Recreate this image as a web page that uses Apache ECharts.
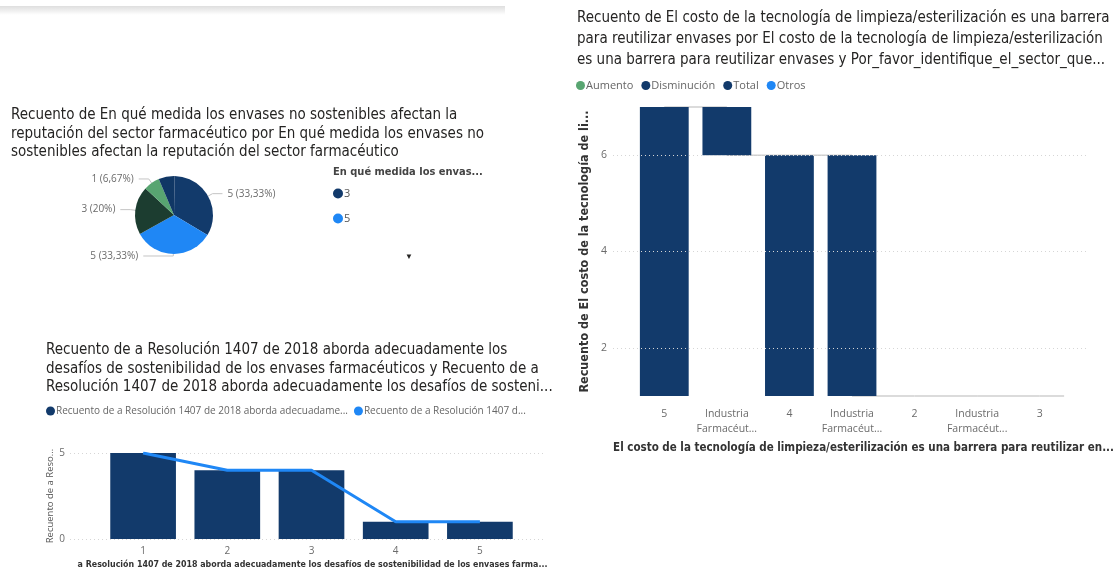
<!DOCTYPE html>
<html>
<head>
<meta charset="utf-8">
<script src="https://cdn.jsdelivr.net/npm/echarts@6/dist/echarts.min.js"></script>
<style>
  html, body { margin: 0; padding: 0; background: #ffffff; }
  #c { width: 1116px; height: 570px; }
</style>
</head>
<body>
<div id="c"></div>
<script>
// Pie: how much unsustainable packaging affects the sector's reputation
const pieCategories = ['3', '5', '4', '2', '1'];
const pieCounts = [5, 5, 3, 1, 1];

// Combo: Resolución 1407 de 2018
const resCategories = ['1', '2', '3', '4', '5'];
const resBarCounts = [5, 4, 4, 1, 1];
const resLineCounts = [5, 4, 4, 1, 1];
const resTicks = [0, 5];

// Waterfall: cleaning/sterilisation cost as a barrier to reuse
const wfCategories = ['5', 'Industria Farmacéutica', '4', 'Industria Farmacéutica', '2', 'Industria Farmacéutica', '3'];
const wfStart = [1, 6, 1, 1, 1, 1, 1];
const wfEnd = [7, 7, 6, 6, 1, 1, 1];
const wfKind = ['Total', 'Disminución', 'Total', 'Disminución', 'Total', 'Disminución', 'Total'];
const wfLinks = [7, 6, 6, 1, 1, 1, 1];
const wfTicks = [2, 4, 6];

const FONT_T = '"DejaVu Sans Condensed", "Liberation Sans Narrow", "DejaVu Sans", sans-serif';
const FONT_L = '"Open Sans", "Noto Sans", sans-serif';
const NAVY = '#123a6b', BLUE = '#1f87f5', DKGREEN = '#1c3d30', GREEN = '#58a571', NAVY2 = '#103765';
const TITLE_C = '#252423', LABEL_C = '#6b6b6b', GRID_C = '#d6d6d6';

const RES_NAME_BAR = 'Recuento de a Resolución 1407 de 2018 aborda adecuadamente los desafíos de sostenibilidad de los envases farmacéuticos';
const RES_NAME_LINE = 'Recuento de a Resolución 1407 de 2018 aborda adecuadamente los desafíos de sostenibilidad (línea)';

const WF_GAP = 0.22;

const chart = echarts.init(document.getElementById('c'), null, { renderer: 'canvas' });

const wfSpan = (kind) => wfKind.map((k, i) => (k === kind ? wfEnd[i] - wfStart[i] : '-'));

const titleStyle = (lh) => ({ fontFamily: FONT_T, fontSize: 15, fontWeight: 'normal', color: TITLE_C, lineHeight: lh });

// per-slice leader line lengths for the pie labels
const pieLeader = [[5, 10], [2, 30], [5, 10], [5, 10], [5, 10]];

const option = {
  backgroundColor: '#ffffff',
  animation: false,
  title: [
    {
      text: 'Recuento de El costo de la tecnología de limpieza/esterilización es una barrera\npara reutilizar envases por El costo de la tecnología de limpieza/esterilización\nes una barrera para reutilizar envases y Por_favor_identifique_el_sector_que...',
      left: 577, top: 8, padding: 0,
      textStyle: titleStyle(21)
    },
    {
      text: 'Recuento de En qué medida los envases no sostenibles afectan la\nreputación del sector farmacéutico por En qué medida los envases no\nsostenibles afectan la reputación del sector farmacéutico',
      left: 11, top: 106, padding: 0,
      textStyle: titleStyle(18.5)
    },
    {
      text: 'Recuento de a Resolución 1407 de 2018 aborda adecuadamente los\ndesafíos de sostenibilidad de los envases farmacéuticos y Recuento de a\nResolución 1407 de 2018 aborda adecuadamente los desafíos de sosteni...',
      left: 46, top: 341, padding: 0,
      textStyle: titleStyle(18.5)
    },
    {
      text: 'En qué medida los envas...',
      left: 333, top: 167, padding: 0,
      textStyle: { fontFamily: FONT_T, fontSize: 11, fontWeight: 'bold', color: '#444444' }
    },
    {
      text: '▼',
      left: 405, top: 253, padding: 0,
      textStyle: { fontFamily: FONT_L, fontSize: 8, fontWeight: 'normal', color: TITLE_C }
    }
  ],
  legend: [
    {
      data: ['3', '5'],
      orient: 'vertical', left: 333, top: 188, padding: 0,
      icon: 'circle', itemWidth: 10, itemHeight: 10, itemGap: 14,
      textStyle: { fontFamily: FONT_L, fontSize: 11, color: '#555555', padding: [0, 0, 0, -4] }
    },
    {
      data: [
        { name: RES_NAME_BAR, textStyle: { width: 298 } },
        { name: RES_NAME_LINE, textStyle: { width: 166 } }
      ],
      left: 46, top: 406, padding: 0,
      icon: 'circle', itemWidth: 9, itemHeight: 9, itemGap: 6,
      textStyle: { fontFamily: FONT_L, fontSize: 10, color: '#666666', overflow: 'truncate', ellipsis: '...', padding: [0, 0, 0, -4] }
    },
    {
      data: ['Aumento', 'Disminución', 'Total', 'Otros'],
      left: 576, top: 80, padding: 0,
      icon: 'circle', itemWidth: 9, itemHeight: 9, itemGap: 8,
      textStyle: { fontFamily: FONT_L, fontSize: 11, color: '#666666', padding: [0, 0, 0, -4] }
    }
  ],
  grid: [
    // 0: waterfall value scale with gridlines
    { left: 613, right: 28, top: 107, bottom: 174, outerBoundsMode: 'none', containLabel: false },
    // 1: waterfall bars
    { left: 633, width: 438, top: 107, bottom: 174, outerBoundsMode: 'none', containLabel: false },
    // 2: combo value scale with gridlines
    { left: 70, width: 475, top: 453, bottom: 31, outerBoundsMode: 'none', containLabel: false },
    // 3: combo bars and line
    { left: 101, width: 421, top: 453, bottom: 31, outerBoundsMode: 'none', containLabel: false }
  ],
  xAxis: [
    { gridIndex: 0, type: 'value', min: 0, max: 1, show: false },
    {
      gridIndex: 1, type: 'category', data: wfCategories,
      axisLine: { show: false }, axisTick: { show: false },
      axisLabel: {
        fontFamily: FONT_L, fontSize: 10.5, color: LABEL_C, margin: 11, lineHeight: 15, interval: 0,
        formatter: (v) => v.replace(' ', '\n').replace('Farmacéutica', 'Farmacéut...')
      },
      name: 'El costo de la tecnología de limpieza/esterilización es una barrera para reutilizar en...',
      nameLocation: 'middle', nameGap: 42,
      nameTextStyle: { fontFamily: FONT_T, fontSize: 11.5, fontWeight: 'bold', color: '#333333', padding: [0, 0, 0, 23] }
    },
    { gridIndex: 2, type: 'value', min: 0, max: 1, show: false },
    {
      gridIndex: 3, type: 'category', data: resCategories,
      axisLine: { show: false }, axisTick: { show: false },
      axisLabel: { fontFamily: FONT_L, fontSize: 10, color: LABEL_C, margin: 7 },
      name: 'a Resolución 1407 de 2018 aborda adecuadamente los desafíos de sostenibilidad de los envases farma...',
      nameLocation: 'middle', nameGap: 21,
      nameTextStyle: { fontFamily: FONT_T, fontSize: 8.8, fontWeight: 'bold', color: '#333333', padding: [0, 0, 0, 2] }
    }
  ],
  yAxis: [
    {
      gridIndex: 0, type: 'value', min: 1, max: 7, interval: 1,
      axisLine: { show: false }, axisTick: { show: false }, splitLine: { show: false },
      axisLabel: {
        fontFamily: FONT_L, fontSize: 10.5, color: LABEL_C, margin: 6,
        formatter: (v) => (wfTicks.includes(v) ? String(v) : '')
      },
      name: 'Recuento de El costo de la tecnología de li...',
      nameLocation: 'middle', nameGap: 22,
      nameTextStyle: { fontFamily: FONT_T, fontSize: 12.5, fontWeight: 'bold', color: '#333333' }
    },
    { gridIndex: 1, type: 'value', min: 1, max: 7, show: false },
    {
      gridIndex: 2, type: 'value', min: resTicks[0], max: resTicks[1], interval: resTicks[1] - resTicks[0],
      axisLine: { show: false }, axisTick: { show: false },
      splitLine: { show: true, lineStyle: { color: GRID_C, type: [1, 3], width: 1 } },
      axisLabel: { fontFamily: FONT_L, fontSize: 10, color: LABEL_C, margin: 5 },
      name: 'Recuento de a Reso...',
      nameLocation: 'middle', nameGap: 14,
      nameTextStyle: { fontFamily: FONT_L, fontSize: 9.5, color: '#555555' }
    },
    { gridIndex: 3, type: 'value', min: resTicks[0], max: resTicks[1], show: false }
  ],
  graphic: [
    {
      type: 'rect', silent: true, z: 0,
      shape: { x: 0, y: 6, width: 505, height: 9 },
      style: {
        fill: new echarts.graphic.LinearGradient(0, 0, 0, 1, [
          { offset: 0, color: 'rgba(0,0,0,0.13)' },
          { offset: 1, color: 'rgba(0,0,0,0)' }
        ])
      }
    }
  ],
  series: [
    // waterfall gridlines
    {
      type: 'line', xAxisIndex: 0, yAxisIndex: 0, data: [], silent: true,
      markLine: {
        silent: true, symbol: 'none', label: { show: false },
        lineStyle: { color: GRID_C, type: [1, 3], width: 1 },
        data: wfTicks.map((t) => ({ yAxis: t }))
      }
    },
    // waterfall connectors and zero-height steps
    {
      type: 'custom', xAxisIndex: 1, yAxisIndex: 1, z: 1, silent: true,
      data: wfLinks.map((v, i) => [i, v]),
      renderItem: (params, api) => {
        const i = api.value(0);
        const level = api.value(1);
        const p = api.coord([i, level]);
        const band = api.size([1, 0])[0];
        const x2 = i < wfCategories.length - 1 ? api.coord([i + 1, level])[0] : p[0] + band * (1 - WF_GAP) / 2;
        return {
          type: 'line',
          shape: { x1: p[0], y1: p[1], x2: x2, y2: p[1] },
          style: { stroke: '#cfcfcf', lineWidth: 1.5 }
        };
      }
    },
    {
      name: 'wfBase', type: 'bar', stack: 'wf', xAxisIndex: 1, yAxisIndex: 1, silent: true,
      barCategoryGap: (WF_GAP * 100) + '%',
      itemStyle: { color: 'rgba(0,0,0,0)' },
      data: wfStart
    },
    {
      name: 'Disminución', type: 'bar', stack: 'wf', xAxisIndex: 1, yAxisIndex: 1, z: 3,
      itemStyle: { color: NAVY },
      data: wfSpan('Disminución')
    },
    {
      name: 'Total', type: 'bar', stack: 'wf', xAxisIndex: 1, yAxisIndex: 1, z: 3,
      itemStyle: { color: NAVY },
      data: wfSpan('Total')
    },
    { name: 'Aumento', type: 'bar', stack: 'wf', xAxisIndex: 1, yAxisIndex: 1, itemStyle: { color: GREEN }, data: [] },
    { name: 'Otros', type: 'bar', stack: 'wf', xAxisIndex: 1, yAxisIndex: 1, itemStyle: { color: BLUE }, data: [] },

    // pie
    {
      type: 'pie', center: [174, 215], radius: 39, startAngle: 89, clockwise: true,
      avoidLabelOverlap: false,
      label: {
        fontFamily: FONT_L, fontSize: 10, color: LABEL_C,
        formatter: (p) => p.value + ' (' + String(p.percent).replace('.', ',') + '%)'
      },
      labelLine: { lineStyle: { color: '#c4c4c4', width: 1 } },
      data: pieCategories.map((c, i) => ({
        name: c,
        value: pieCounts[i],
        itemStyle: { color: [NAVY, BLUE, DKGREEN, GREEN, NAVY2][i] },
        label: { show: i < 4 },
        labelLine: { show: i < 4, length: pieLeader[i][0], length2: pieLeader[i][1] }
      }))
    },

    // combo
    {
      name: RES_NAME_BAR, type: 'bar', xAxisIndex: 3, yAxisIndex: 3,
      barCategoryGap: '22%',
      itemStyle: { color: NAVY },
      data: resBarCounts
    },
    {
      name: RES_NAME_LINE, type: 'line', xAxisIndex: 3, yAxisIndex: 3,
      showSymbol: false, symbol: 'none',
      lineStyle: { color: BLUE, width: 3 },
      itemStyle: { color: BLUE },
      data: resLineCounts
    },
    // combo gridlines scale placeholder
    { type: 'line', xAxisIndex: 2, yAxisIndex: 2, data: [], silent: true }
  ]
};

chart.setOption(option);
</script>
</body>
</html>
